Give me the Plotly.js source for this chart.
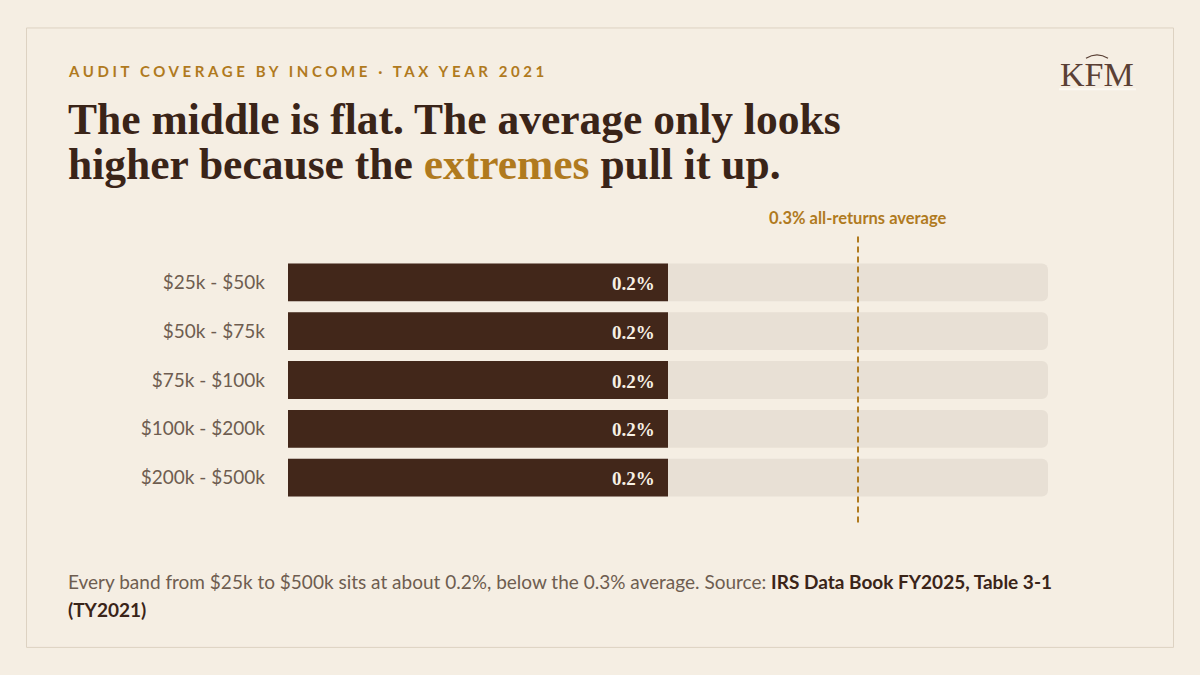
<!DOCTYPE html>
<html>
<head>
<meta charset="utf-8">
<script src="https://cdn.plot.ly/plotly-3.0.1.min.js"></script>
<style>
  html, body { margin: 0; padding: 0; background: #f5eee3; }
  #chart { width: 1200px; height: 675px; }
</style>
</head>
<body>
<div id="chart"></div>
<script>
// Audit coverage rates by adjusted gross income band, tax year 2021 (percent)
const incomeBands = ['$25k - $50k', '$50k - $75k', '$75k - $100k', '$100k - $200k', '$200k - $500k'];
const auditRates = [0.2, 0.2, 0.2, 0.2, 0.2];
const allReturnsAverage = 0.3;
const axisMax = 0.4;

const W = 1200, H = 675;
const M = { l: 288, r: 152, t: 257.5, b: 172.5 };
// pixel -> paper helpers for decorations placed outside the plot area
const fx = px => (px - M.l) / (W - M.l - M.r);
const fy = py => (H - M.b - py) / (H - M.t - M.b);

const SANS = 'Lato, "Source Sans Pro", sans-serif';
const SERIF = '"Liberation Serif", "DejaVu Serif", serif';
const BROWN = '#42271a';
const DARK = '#3a2418';
const GOLD = '#b07a1e';
const MUTED = '#6e5d50';
const TRACK = '#e8e0d5';

const track = {
  type: 'bar', orientation: 'h',
  y: incomeBands, x: incomeBands.map(() => axisMax),
  marker: { color: TRACK, cornerradius: 6, line: { width: 0 } },
  hoverinfo: 'skip', showlegend: false
};

const bars = {
  type: 'bar', orientation: 'h',
  y: incomeBands, x: auditRates,
  marker: { color: BROWN, cornerradius: 6, line: { width: 0 } },
  hoverinfo: 'skip', showlegend: false
};

// value labels sit just inside the end of each bar
const valueLabels = incomeBands.map((band, i) => ({
  xref: 'x', yref: 'y', x: auditRates[i], y: band,
  xanchor: 'right', yanchor: 'middle', xshift: -11, yshift: -1, showarrow: false,
  text: auditRates[i].toFixed(1) + '%',
  font: { family: SERIF, size: 19, color: '#f7f0e4', weight: 700 }
}));

const layout = {
  width: W, height: H,
  margin: M,
  paper_bgcolor: '#f5eee3', plot_bgcolor: 'rgba(0,0,0,0)',
  barmode: 'overlay', bargap: 0.2245,
  xaxis: { range: [0, axisMax], visible: false, fixedrange: true },
  yaxis: {
    type: 'category', autorange: 'reversed',
    showgrid: false, zeroline: false, showline: false, ticks: '',
    ticklabelstandoff: 22,
    tickfont: { family: SANS, size: 19, color: MUTED }
  },
  shapes: [
    // outer frame
    { type: 'rect', xref: 'paper', yref: 'paper', x0: fx(26.5), x1: fx(1173.5), y0: fy(26.5), y1: fy(648.5),
      line: { color: '#ddd2c2', width: 1 }, fillcolor: 'rgba(0,0,0,0)', layer: 'below' },
    // all-returns average marker
    { type: 'line', xref: 'x', yref: 'paper', x0: allReturnsAverage, x1: allReturnsAverage, y0: fy(523), y1: fy(236),
      line: { color: GOLD, width: 2, dash: '6px,4px' } },
    // logo arc and rule
    { type: 'path', xref: 'paper', yref: 'paper',
      path: `M ${fx(1086)} ${fy(57)} Q ${fx(1097)} ${fy(50)} ${fx(1108)} ${fy(57)}`,
      line: { color: '#5a4035', width: 1.2 } },
    { type: 'line', xref: 'paper', yref: 'paper', x0: fx(1059), x1: fx(1136), y0: fy(88), y1: fy(88),
      line: { color: '#fbf8f1', width: 2 } }
  ],
  annotations: [
    { xref: 'paper', yref: 'paper', x: fx(68), y: fy(70), xanchor: 'left', yanchor: 'middle', showarrow: false,
      text: 'AUDIT COVERAGE BY INCOME · TAX YEAR 2021',
      font: { family: SANS, size: 15, color: GOLD, weight: 700 } },
    { xref: 'paper', yref: 'paper', x: fx(66), y: fy(118), xanchor: 'left', yanchor: 'middle', showarrow: false,
      text: 'The middle is flat. The average only looks',
      font: { family: SERIF, size: 43.5, color: DARK, weight: 700 } },
    { xref: 'paper', yref: 'paper', x: fx(66), y: fy(163), xanchor: 'left', yanchor: 'middle', showarrow: false,
      text: 'higher because the <span style="color:' + GOLD + '">extremes</span> pull it up.',
      font: { family: SERIF, size: 43.5, color: DARK, weight: 700 } },
    { xref: 'paper', yref: 'paper', x: fx(1097), y: fy(73), xanchor: 'center', yanchor: 'middle', showarrow: false,
      text: 'KFM', font: { family: SERIF, size: 34, color: '#5a4035' } },
    { xref: 'x', yref: 'paper', x: allReturnsAverage, y: fy(217), xanchor: 'center', yanchor: 'middle', showarrow: false,
      text: allReturnsAverage.toFixed(1) + '% all-returns average',
      font: { family: SANS, size: 16.5, color: GOLD, weight: 700 } },
    { xref: 'paper', yref: 'paper', x: fx(66), y: fy(582), xanchor: 'left', yanchor: 'middle', showarrow: false,
      text: 'Every band from $25k to $500k sits at about 0.2%, below the 0.3% average. Source: <b style="color:' + DARK + '">IRS Data Book FY2025, Table 3-1</b>',
      font: { family: SANS, size: 19, color: MUTED } },
    { xref: 'paper', yref: 'paper', x: fx(66), y: fy(610), xanchor: 'left', yanchor: 'middle', showarrow: false,
      text: '<b style="color:' + DARK + '">(TY2021)</b>',
      font: { family: SANS, size: 19, color: MUTED } }
  ].concat(valueLabels)
};

Plotly.newPlot('chart', [track, bars], layout, { displayModeBar: false, staticPlot: true }).then(() => {
  // widen the tracking on the kicker line and keep it left-aligned
  const root = document.getElementById('chart').getBoundingClientRect();
  document.querySelectorAll('.annotation-text').forEach(t => {
    if (t.textContent.indexOf('AUDIT COVERAGE') === 0) {
      t.style.letterSpacing = '3.6px';
      const left = t.getBoundingClientRect().left - root.left;
      t.setAttribute('x', parseFloat(t.getAttribute('x') || 0) + (68 - left));
    }
  });
});
</script>
</body>
</html>
